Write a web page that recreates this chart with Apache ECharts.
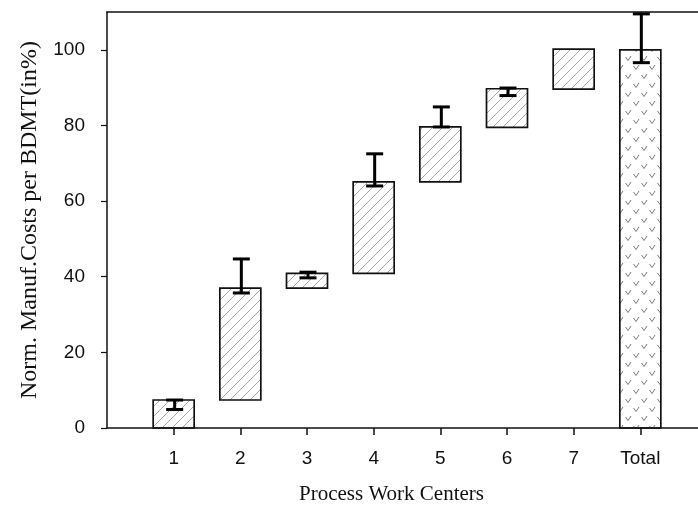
<!DOCTYPE html>
<html><head><meta charset="utf-8">
<script src="https://cdn.jsdelivr.net/npm/echarts@6/dist/echarts.min.js"></script>
<style>html,body{margin:0;padding:0;background:#fff}#c{width:698px;height:512px}</style>
</head><body><div id="c"></div>
<script>
const categories = ['1', '2', '3', '4', '5', '6', '7', 'Total'];
const positions = [1, 2, 3, 4, 5, 6, 7, 8];
const barBottoms = [0, 7.4, 37.0, 40.9, 65.1, 79.5, 89.6, 0];
const barTops = [7.4, 37.0, 40.9, 65.1, 79.6, 89.7, 100.2, 100];
const errLow = [4.9, 35.7, 39.7, 64.0, 79.6, 87.9, null, 96.6];
const errHigh = [7.4, 44.7, 41.2, 72.5, 84.9, 89.9, null, 109.5];
const yTicks = [0, 20, 40, 60, 80, 100];

function makeHatch() {
  const c = document.createElement('canvas');
  c.width = 10; c.height = 10;
  const g = c.getContext('2d');
  g.strokeStyle = '#909090'; g.lineWidth = 0.8;
  g.beginPath();
  g.moveTo(-1, 11); g.lineTo(11, -1);
  g.moveTo(-6, 6); g.lineTo(6, -6);
  g.moveTo(4, 16); g.lineTo(16, 4);
  g.stroke();
  return c;
}
function makeChecks() {
  const c = document.createElement('canvas');
  c.width = 16; c.height = 18;
  const g = c.getContext('2d');
  g.strokeStyle = '#7a7a7a'; g.lineWidth = 1;
  const v = (x, y) => { g.beginPath(); g.moveTo(x - 2.5, y - 2); g.lineTo(x, y + 1.5); g.lineTo(x + 3, y - 3); g.stroke(); };
  v(4, 5); v(12, 14);
  return c;
}
const hatch = { image: makeHatch(), repeat: 'repeat' };
const checks = { image: makeChecks(), repeat: 'repeat' };

const barData = positions.map((p, i) => [p, barBottoms[i], barTops[i]]);
const errData = positions.map((p, i) => [p, errLow[i], errHigh[i]]).filter(d => d[1] != null);

const chart = echarts.init(document.getElementById('c'), null, { renderer: 'canvas' });
const xCommon = {
  type: 'value', min: 0, max: 8.865,
  axisLine: { show: true, lineStyle: { color: '#111', width: 1.5 } },
  splitLine: { show: false }
};
chart.setOption({
  animation: false,
  backgroundColor: '#fff',
  grid: { left: 107, right: 0, top: 12, bottom: 84 },
  xAxis: [
    Object.assign({}, xCommon, {
      position: 'bottom',
      name: 'Process Work Centers', nameLocation: 'middle', nameGap: 56,
      nameTextStyle: { fontFamily: 'Liberation Serif', fontSize: 21, color: '#111', padding: [0, 22, 0, 0] },
      axisTick: { show: true, inside: false, length: 7, lineStyle: { color: '#111', width: 1.5 }, customValues: positions },
      axisLabel: { margin: 21, fontFamily: 'Liberation Sans', fontSize: 19, color: '#111',
        customValues: positions, formatter: v => categories[Math.round(v) - 1] || '' }
    }),
    Object.assign({}, xCommon, {
      position: 'top', axisTick: { show: false }, axisLabel: { show: false }
    })
  ],
  yAxis: {
    type: 'value', min: 0, max: 110,
    name: 'Norm. Manuf.Costs per BDMT(in%)', nameLocation: 'middle', nameGap: 65,
    nameTextStyle: { fontFamily: 'Liberation Serif', fontSize: 24, color: '#111' },
    axisLine: { show: true, lineStyle: { color: '#111', width: 1.5 } },
    axisTick: { show: true, inside: false, length: 6, lineStyle: { color: '#111', width: 1.2 }, customValues: yTicks },
    axisLabel: { margin: 22, fontFamily: 'Liberation Sans', fontSize: 19, color: '#111', customValues: yTicks },
    splitLine: { show: false }
  },
  series: [
    {
      type: 'custom', data: barData, encode: { x: 0, y: [1, 2] },
      renderItem: function (params, api) {
        const x = api.value(0), lo = api.value(1), hi = api.value(2);
        const p0 = api.coord([x, lo]), p1 = api.coord([x, hi]);
        const w = api.size([1, 0])[0] * 0.615;
        return {
          type: 'rect',
          shape: { x: p0[0] - w / 2, y: p1[1], width: w, height: p0[1] - p1[1] },
          style: { fill: params.dataIndex === 7 ? checks : hatch, stroke: '#111', lineWidth: 1.7 }
        };
      }
    },
    {
      type: 'custom', data: errData, encode: { x: 0, y: [1, 2] }, z: 3,
      renderItem: function (params, api) {
        const x = api.value(0), lo = api.value(1), hi = api.value(2);
        const a = api.coord([x, lo]), b = api.coord([x, hi]);
        const cx = a[0] + 1, h = 8.5;
        const st = { stroke: '#000', lineWidth: 3 };
        return {
          type: 'group', children: [
            { type: 'line', shape: { x1: cx, y1: a[1], x2: cx, y2: b[1] }, style: st },
            { type: 'line', shape: { x1: cx - h, y1: a[1], x2: cx + h, y2: a[1] }, style: st },
            { type: 'line', shape: { x1: cx - h, y1: b[1], x2: cx + h, y2: b[1] }, style: st }
          ]
        };
      }
    }
  ]
});
</script></body></html>
